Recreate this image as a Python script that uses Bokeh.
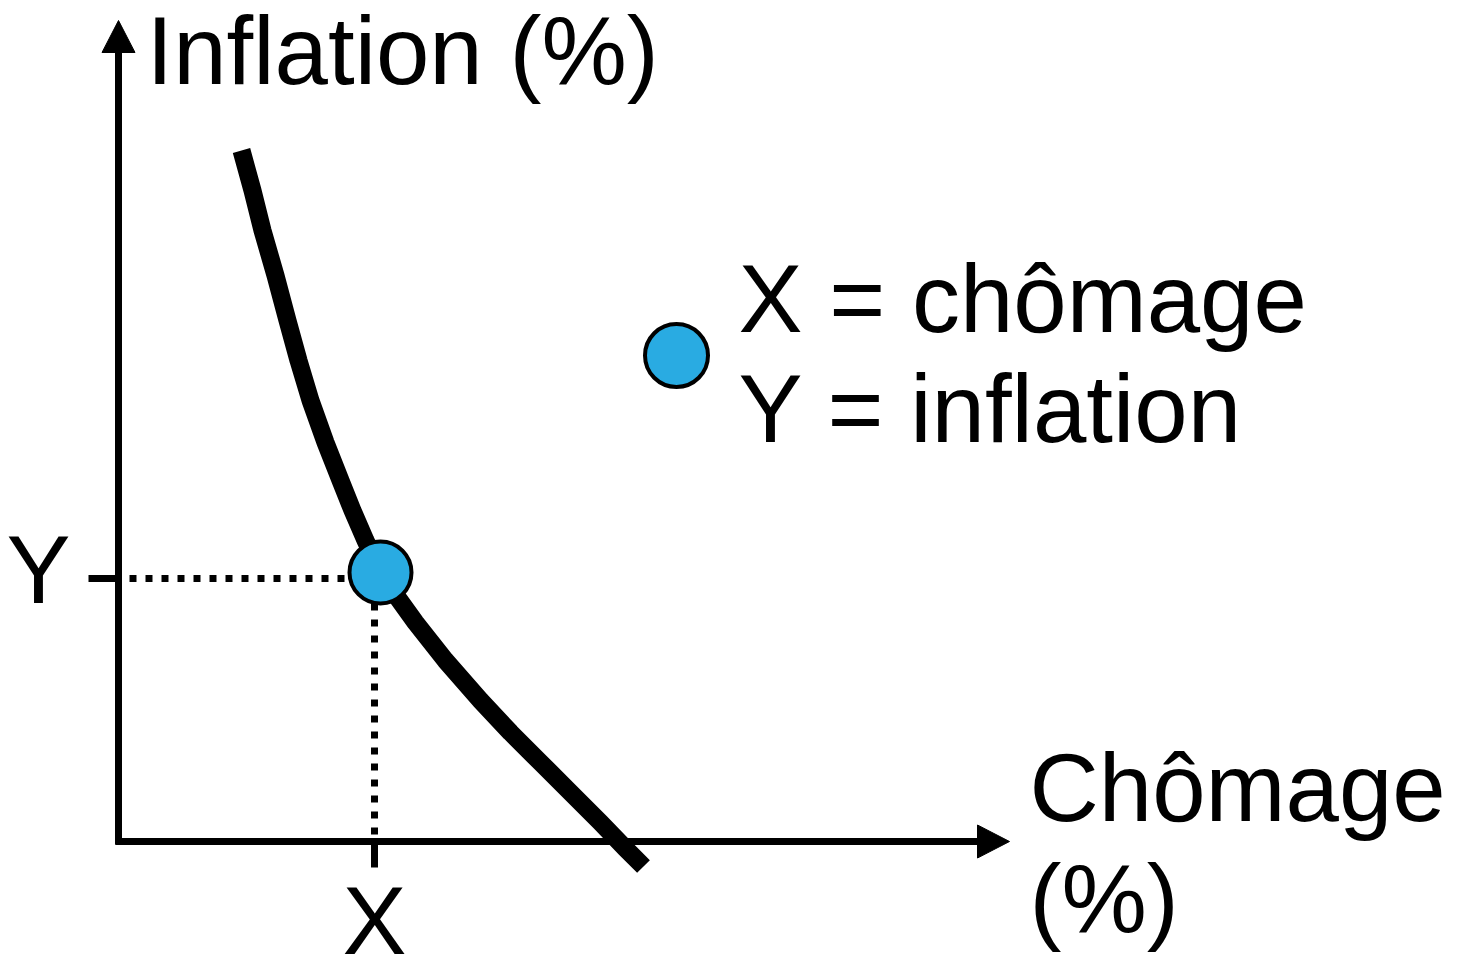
from bokeh.plotting import figure
from bokeh.models import Range1d
from bokeh.core.properties import value
from bokeh.embed import file_html
from bokeh.resources import INLINE

# Phillips curve (chart coordinates, y grows downward on the page)
curve_x = [241, 252, 262, 275, 287, 298, 310, 325, 340, 352, 365, 380, 397, 415, 445, 480, 510, 540, 570, 600, 625, 643]
curve_y = [150, 190, 230, 275, 320, 360, 400, 442, 480, 510, 540, 572, 597, 622, 660, 700, 732, 762, 792, 822, 848, 866]

# axes
origin_x, origin_y = 118, 841
y_axis_top = 40
x_axis_right = 990

# highlighted point on the curve
point_x = [380]
point_y = [572]
# legend marker
legend_x = [676]
legend_y = [355]

# labels
y_title = "Inflation (%)"
x_title_lines = ["Chômage", "(%)"]
legend_lines = ["X = chômage", "Y = inflation"]
tick_x_label = "X"
tick_y_label = "Y"

FONT = value("Liberation Sans")
BLUE = "#29ABE2"
B = 35  # baseline correction for the renderer

p = figure(width=1462, height=958, x_range=Range1d(0, 1462), y_range=Range1d(958, 0),
           min_border=0, toolbar_location=None, output_backend="svg")
p.axis.visible = False
p.grid.visible = False
p.outline_line_color = None
p.background_fill_color = "white"
p.border_fill_color = "white"

# axes lines
p.line([origin_x, origin_x], [origin_y + 3, y_axis_top], line_color="black", line_width=7)
p.line([origin_x - 3, x_axis_right], [origin_y, origin_y], line_color="black", line_width=7)
# arrow heads
p.patch([origin_x, origin_x - 16.5, origin_x + 16.5], [20, 52, 52], color="black")
p.patch([1009, 977, 977], [origin_y, origin_y - 16.5, origin_y + 16.5], color="black")

# ticks
p.line([88, origin_x], [point_y[0] + 6, point_y[0] + 6], line_color="black", line_width=7)
p.line([374, 374], [origin_y, 867], line_color="black", line_width=7)

# dotted guides
p.line([129, 350], [point_y[0] + 6, point_y[0] + 6], line_color="black", line_width=7, line_dash="7 9")
p.line([374, 374], [603, origin_y], line_color="black", line_width=7, line_dash="7 9")

# curve
p.line(curve_x, curve_y, line_color="black", line_width=18, line_join="round")

# points
p.scatter(point_x, point_y, size=62, fill_color=BLUE, line_color="black", line_width=4)
p.scatter(legend_x, legend_y, size=63, fill_color=BLUE, line_color="black", line_width=4)

FS = "96px"
p.text([146], [85 - B], text=[y_title], text_font=FONT, text_font_size=FS, text_baseline="alphabetic")
p.text([1029, 1029], [822 - B, 933 - B], text=x_title_lines, text_font=FONT, text_font_size=FS,
       text_baseline="alphabetic")
p.text([738, 738], [333 - B, 443 - B], text=legend_lines, text_font=FONT, text_font_size=FS,
       text_baseline="alphabetic")
p.text([374], [955 - B], text=[tick_x_label], text_font=FONT, text_font_size=FS,
       text_baseline="alphabetic", text_align="center")
p.text([6], [604 - B], text=[tick_y_label], text_font=FONT, text_font_size=FS, text_baseline="alphabetic")

open("out.html", "w").write(file_html(p, INLINE))
